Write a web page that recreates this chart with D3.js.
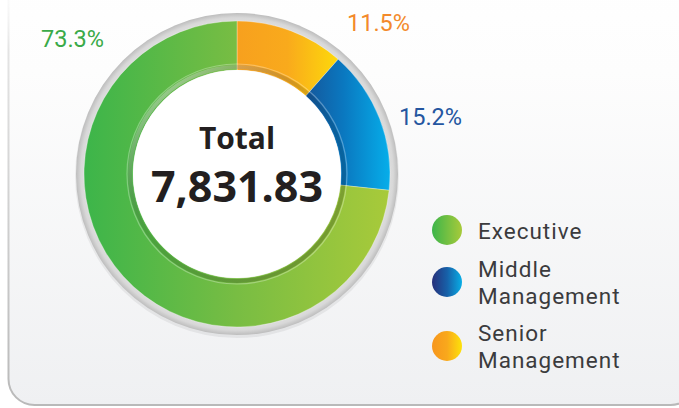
<!DOCTYPE html>
<html>
<head>
<meta charset="utf-8">
<script src="https://cdn.jsdelivr.net/npm/d3@7"></script>
<style>
  html, body { margin: 0; padding: 0; background: #ffffff; }
  svg { display: block; }
</style>
</head>
<body>
<svg id="chart" width="679" height="408"></svg>
<script>
// Workforce split by level
const categories = ["Executive", "Middle Management", "Senior Management"];
const shares = [73.3, 15.2, 11.5];
const totalLabel = "Total";
const totalValue = "7,831.83";
const legendLines = [["Executive"], ["Middle", "Management"], ["Senior", "Management"]];

// Clockwise order of the ring starting at 12 o'clock
const ringOrder = ["Senior Management", "Middle Management", "Executive"];

const W = 679, H = 408;
const svg = d3.select("#chart");
const defs = svg.append("defs");

// Horizontal gradient per category (left stop -> right stop)
const gradStops = {
  "Executive": [[0, "#3cb54a"], [0.5, "#78bd43"], [1, "#a8ca3a"]],
  "Middle Management": [[0, "#15579b"], [0.45, "#0a78c0"], [1, "#06aeea"]],
  "Senior Management": [[0, "#f7a01e"], [0.5, "#f9aa1c"], [1, "#fdd90b"]]
};
const legendStops = {
  "Executive": [[0, "#3cb54a"], [1, "#a8ca3a"]],
  "Middle Management": [[0, "#27307a"], [0.5, "#1760a8"], [1, "#08aee6"]],
  "Senior Management": [[0, "#f7961d"], [0.5, "#f9a81c"], [1, "#fde20a"]]
};
const idOf = c => c.replace(/\s+/g, "-").toLowerCase();

function addGrad(id, stops) {
  const g = defs.append("linearGradient").attr("id", id)
    .attr("x1", 0).attr("y1", 0).attr("x2", 1).attr("y2", 0);
  stops.forEach(s => g.append("stop").attr("offset", s[0]).attr("stop-color", s[1]));
}
categories.forEach(c => {
  addGrad("ring-" + idOf(c), gradStops[c]);
  addGrad("dot-" + idOf(c), legendStops[c]);
});

// Panel background
const panelGrad = defs.append("linearGradient").attr("id", "panel-bg")
  .attr("x1", 0).attr("y1", 0).attr("x2", 0).attr("y2", 1);
panelGrad.append("stop").attr("offset", 0).attr("stop-color", "#ffffff");
panelGrad.append("stop").attr("offset", 0.25).attr("stop-color", "#fdfdfd");
panelGrad.append("stop").attr("offset", 1).attr("stop-color", "#eff0f2");
const panelStroke = defs.append("linearGradient").attr("id", "panel-stroke")
  .attr("x1", 0).attr("y1", 0).attr("x2", 0).attr("y2", 1);
panelStroke.append("stop").attr("offset", 0).attr("stop-color", "#ffffff").attr("stop-opacity", 0);
panelStroke.append("stop").attr("offset", 0.2).attr("stop-color", "#e4e4e4");
panelStroke.append("stop").attr("offset", 1).attr("stop-color", "#b9b9b9");

svg.append("rect")
  .attr("x", 8.5).attr("y", -40).attr("width", 688).attr("height", 445)
  .attr("rx", 26)
  .attr("fill", "url(#panel-bg)")
  .attr("stroke", "url(#panel-stroke)").attr("stroke-width", 2);

// Donut geometry
const cx = 237, cy = 174;
const rOuter = 153, rInner = 104, rRim = 161;
const g = svg.append("g").attr("transform", `translate(${cx},${cy})`);

// Grey rim behind the ring
const rimGrad = defs.append("radialGradient").attr("id", "rim")
  .attr("cx", 0.5).attr("cy", 0.5).attr("r", 0.5);
rimGrad.append("stop").attr("offset", 0.9).attr("stop-color", "#e8e8e8");
rimGrad.append("stop").attr("offset", 0.97).attr("stop-color", "#d8d8d8");
rimGrad.append("stop").attr("offset", 1).attr("stop-color", "#bdbdbd");
g.append("circle").attr("cx", 0).attr("cy", 2).attr("r", rRim + 1)
  .attr("fill", "#000").attr("opacity", 0.06);
g.append("circle").attr("r", rRim).attr("fill", "url(#rim)");

// Ring slices
const valueOf = c => shares[categories.indexOf(c)];
const pie = d3.pie().sort(null).value(c => valueOf(c));
const arc = d3.arc().innerRadius(rInner).outerRadius(rOuter);
g.selectAll("path.slice")
  .data(pie(ringOrder))
  .join("path")
  .attr("class", "slice")
  .attr("d", arc)
  .attr("fill", d => `url(#ring-${idOf(d.data)})`)
  .attr("stroke", "#ffffff").attr("stroke-width", 0.6).attr("stroke-opacity", 0.5);

// Bevel along the inner edge
const bevel = defs.append("linearGradient").attr("id", "bevel")
  .attr("x1", 0).attr("y1", 0.15).attr("x2", 0.7).attr("y2", 1);
bevel.append("stop").attr("offset", 0).attr("stop-color", "#ffffff").attr("stop-opacity", 0.5);
bevel.append("stop").attr("offset", 0.5).attr("stop-color", "#000000").attr("stop-opacity", 0.12);
bevel.append("stop").attr("offset", 1).attr("stop-color", "#000000").attr("stop-opacity", 0.22);
g.append("circle").attr("r", rInner + 3).attr("fill", "none")
  .attr("stroke", "url(#bevel)").attr("stroke-width", 4);
g.append("circle").attr("r", rInner + 6).attr("fill", "none")
  .attr("stroke", "#ffffff").attr("stroke-opacity", 0.3).attr("stroke-width", 1.2);
g.append("circle").attr("r", rInner).attr("fill", "#ffffff");

// Centre total
g.append("text").attr("x", 0).attr("y", -25)
  .attr("text-anchor", "middle")
  .attr("font-family", "'Open Sans', sans-serif").attr("font-weight", 700)
  .attr("font-size", 30).attr("fill", "#231f20")
  .text(totalLabel);
g.append("text").attr("x", 0).attr("y", 28)
  .attr("text-anchor", "middle")
  .attr("font-family", "'Open Sans', sans-serif").attr("font-weight", 700)
  .attr("font-size", 43).attr("fill", "#231f20")
  .text(totalValue);

// Percentage labels
const labelColor = {
  "Executive": "#3aaa48",
  "Middle Management": "#2456a0",
  "Senior Management": "#f38a2b"
};
const labelAt = {
  "Executive": [41, 47],
  "Middle Management": [399, 125],
  "Senior Management": [347, 31]
};
svg.selectAll("text.pct")
  .data(categories)
  .join("text")
  .attr("class", "pct")
  .attr("x", c => labelAt[c][0]).attr("y", c => labelAt[c][1])
  .attr("font-family", "Roboto, sans-serif").attr("font-size", 23.5)
  .attr("fill", c => labelColor[c])
  .text(c => d3.format(".1f")(valueOf(c)) + "%");

// Legend
const legendY = [230, 282, 346];
const lineH = 27;
const items = svg.append("g").selectAll("g.item")
  .data(categories)
  .join("g")
  .attr("class", "item")
  .attr("transform", (c, i) => `translate(447,${legendY[i]})`);
items.append("circle").attr("r", 15)
  .attr("fill", c => `url(#dot-${idOf(c)})`);
items.each(function(c, i) {
  const lines = legendLines[i];
  const y0 = 8.5 - (lines.length - 1) * lineH / 2;
  d3.select(this).selectAll("text")
    .data(lines)
    .join("text")
    .attr("x", 31).attr("y", (ln, k) => y0 + k * lineH)
    .attr("font-family", "Roboto, sans-serif").attr("font-size", 22.5)
    .attr("letter-spacing", 1.0)
    .attr("fill", "#3b3b3d")
    .text(ln => ln);
});
</script>
</body>
</html>
